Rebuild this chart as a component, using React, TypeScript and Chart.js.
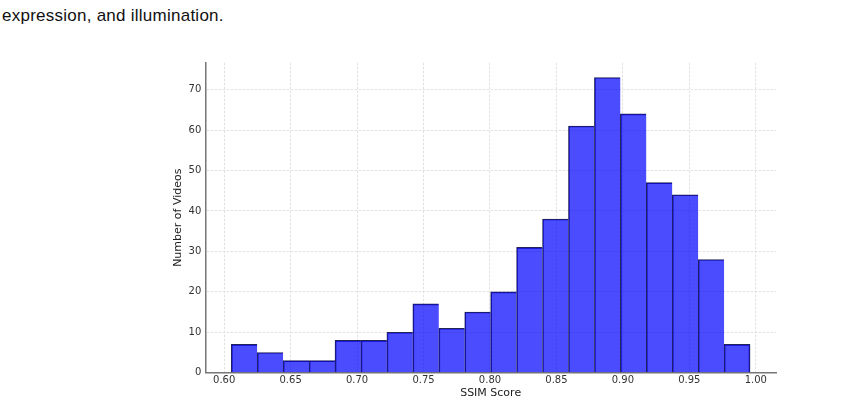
import { useEffect, useRef } from 'react';
import { Chart, registerables } from 'chart.js';

Chart.register(...registerables);

// histogram of SSIM scores, 20 bins
const binCounts = [7, 5, 3, 3, 8, 8, 10, 17, 11, 15, 20, 31, 38, 61, 73, 64, 47, 44, 28, 7];
const scoreMin = 0.6053;
const scoreMax = 0.9957;
const xTicks = [0.6, 0.65, 0.7, 0.75, 0.8, 0.85, 0.9, 0.95, 1.0];
const yTicks = [0, 10, 20, 30, 40, 50, 60, 70];
const xTitle = 'SSIM Score';
const yTitle = 'Number of Videos';
const captionTail = 'expression, and illumination.';

function SsimHistogram() {
	const chartRef = useRef<HTMLCanvasElement | null>(null);

	useEffect(() => {
		if (!chartRef.current) return;

		const binWidth = (scoreMax - scoreMin) / binCounts.length;
		const points = binCounts.map((count, i) => ({
			x: scoreMin + binWidth * (i + 0.5),
			y: count,
		}));
		const margin = (scoreMax - scoreMin) * 0.05;
		const tickFont = { family: 'DejaVu Sans', size: 10 };
		const last = binCounts.length - 1;

		const chart = new Chart(chartRef.current, {
			type: 'bar',
			data: {
				datasets: [
					{
						data: points,
						backgroundColor: 'rgba(0, 0, 255, 0.7)',
						borderColor: '#23235a',
						borderWidth: (ctx: any) => ({
							top: 1,
							left: 1,
							right: ctx.dataIndex === last ? 1 : 0,
							bottom: 0,
						}),
						barPercentage: 1,
						categoryPercentage: 1,
					},
				],
			},
			options: {
				animation: false,
				responsive: false,
				layout: { padding: { left: 171.5, right: 86, top: 62.7, bottom: 0 } },
				plugins: {
					legend: { display: false },
					tooltip: { enabled: false },
				},
				scales: {
					x: {
						type: 'linear',
						offset: false,
						min: scoreMin - margin,
						max: scoreMax + margin,
						afterBuildTicks: (scale) => {
							scale.ticks = xTicks.map((v) => ({ value: v }));
						},
						afterFit: (scale) => {
							scale.height = 405 - 372.7;
						},
						ticks: {
							font: tickFont,
							color: '#333',
							padding: 2,
							maxRotation: 0,
							callback: (v) => Number(v).toFixed(2),
						},
						grid: { color: '#e2e2e2', drawTicks: false, offset: false },
						border: { color: '#777', width: 1.5, dash: [2.5, 1.5] },
						title: {
							display: true,
							text: xTitle,
							font: { family: 'DejaVu Sans', size: 11 },
							color: '#222',
							padding: { top: 0, bottom: 5 },
						},
					},
					y: {
						min: 0,
						max: 76.65,
						afterBuildTicks: (scale) => {
							scale.ticks = yTicks.map((v) => ({ value: v }));
						},
						afterFit: (scale) => {
							scale.width = 205.3 - 171.5;
						},
						ticks: { font: tickFont, color: '#333', padding: 4 },
						grid: { color: '#e2e2e2', drawTicks: false },
						border: { color: '#777', width: 1.5, dash: [2.5, 1.5] },
						title: {
							display: true,
							text: yTitle,
							font: { family: 'DejaVu Sans', size: 11 },
							color: '#222',
							padding: { top: 0, bottom: 0 },
						},
					},
				},
			},
		});

		return () => {
			chart.destroy();
		};
	}, []);

	return (
		<div style={{ position: 'absolute', left: 0, top: 0, width: 862, height: 405, background: '#fff' }}>
			<div
				style={{
					position: 'absolute',
					left: 2,
					top: 5,
					fontFamily: 'Liberation Sans',
					fontSize: 17,
					letterSpacing: '0.25px',
					lineHeight: '22px',
					color: '#111',
					whiteSpace: 'nowrap',
				}}
			>
				{captionTail}
			</div>
			<canvas ref={chartRef} width={862} height={405} style={{ position: 'absolute', left: 0, top: 0 }}></canvas>
		</div>
	);
}

export default function App() {
	return <SsimHistogram />;
}
